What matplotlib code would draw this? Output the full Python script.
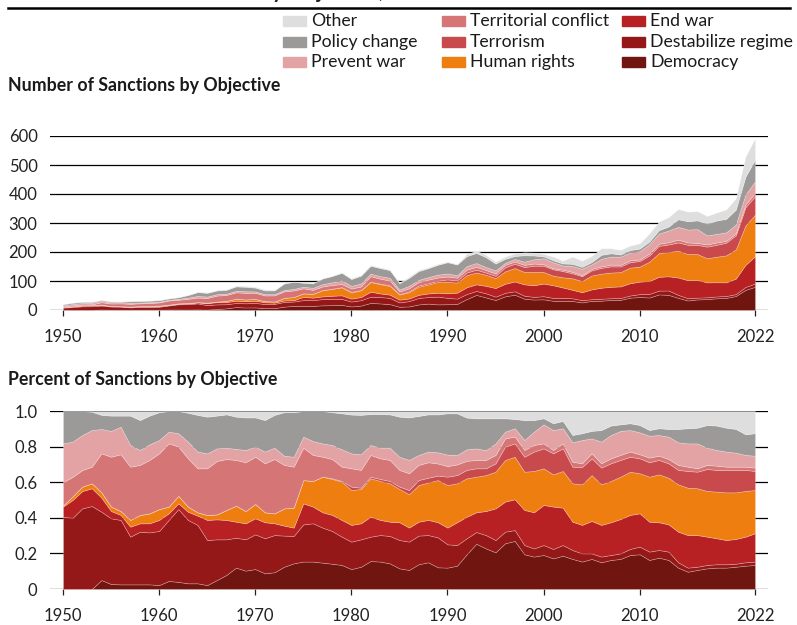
import numpy as np
import matplotlib
matplotlib.use('Agg')
import matplotlib.pyplot as plt
from matplotlib.patches import Rectangle
from matplotlib.lines import Line2D

plt.rcParams['font.family'] = ['Lato', 'DejaVu Sans']

years = list(range(1950, 2023))

# total number of sanctions in place per year (upper panel)
total = [20, 25, 28, 28, 35, 30, 30, 31, 33, 33,
         34, 40, 44, 52, 63, 61, 69, 71, 84, 83,
         80, 71, 69, 92, 98, 94, 92, 109, 118, 130,
         109, 121, 155, 147, 140, 95, 115, 138, 147, 159,
         167, 159, 193, 205, 190, 167, 184, 195, 199, 198,
         193, 184, 170, 184, 170, 186, 213, 213, 207, 222,
         230, 264, 305, 320, 348, 339, 341, 324, 336, 347,
         385, 529, 592]

# share of sanctions by objective, % (lower panel)
democracy = [0, 0, 0, 0, 5.0, 2.8, 2.6, 2.6, 2.6, 2.6,
             2.2, 4.5, 4.0, 3.2, 3.2, 2.2, 5.0, 7.9, 12.0, 10.3,
             11.2, 8.8, 9.4, 12.5, 14.4, 15.4, 15.4, 14.8, 14.2, 13.5,
             11.2, 12.5, 15.7, 15.4, 14.4, 11.6, 10.7, 13.9, 15.0, 12.2,
             12.0, 13.1, 19.5, 25.4, 22.8, 20.6, 25.7, 27.0, 19.5, 18.2,
             19.1, 17.2, 18.7, 16.9, 15.4, 16.9, 15.0, 16.3, 16.9, 19.1,
             19.5, 16.3, 17.6, 16.3, 12.0, 9.7, 10.7, 11.6, 12.0, 12.0,
             12.5, 13.1, 13.5]
destabilize = [40.6, 40.0, 45.3, 46.6, 38.4, 36.9, 36.2, 26.8, 29.6, 29.2,
               30.4, 34.3, 40.9, 35.6, 32.8, 25.3, 22.9, 20.0, 16.8, 17.6,
               19.5, 19.7, 20.9, 17.5, 15.4, 20.9, 21.5, 19.7, 18.4, 15.9,
               15.4, 15.4, 13.7, 14.9, 15.4, 15.9, 15.9, 16.1, 15.3, 16.8,
               13.1, 11.6, 9.0, 6.6, 7.5, 6.9, 6.5, 6.1, 5.2, 4.6,
               5.6, 5.3, 6.0, 5.0, 4.6, 3.1, 3.2, 2.8, 3.1, 3.4,
               4.3, 4.7, 4.3, 4.7, 3.0, 2.3, 1.8, 1.9, 1.9, 1.9,
               1.7, 1.9, 1.9]
end_war = [5.7, 10.0, 9.7, 10.0, 7.9, 4.1, 2.8, 5.6, 4.7, 5.1,
           6.2, 3.7, 3.2, 4.6, 5.2, 11.3, 11.2, 10.9, 9.0, 9.0,
           9.0, 9.0, 6.6, 5.6, 4.7, 11.8, 9.4, 8.6, 9.0, 9.4,
           9.4, 9.0, 11.2, 8.5, 8.0, 10.0, 7.9, 7.8, 8.5, 8.5,
           9.4, 12.8, 12.1, 11.1, 13.5, 17.8, 16.9, 17.3, 19.7, 20.3,
           22.5, 23.8, 21.0, 15.9, 16.0, 18.2, 17.8, 18.4, 19.3, 19.1,
           18.7, 16.8, 15.6, 15.3, 17.2, 18.3, 17.8, 15.9, 14.6, 13.6,
           13.9, 14.4, 15.9]
human_rights = [0.7, 2.0, 2.5, 2.8, 3.0, 2.5, 2.2, 3.8, 4.7, 5.6,
                6.1, 3.8, 4.3, 2.9, 1.9, 2.8, 2.8, 5.6, 9.0, 6.9,
                8.1, 5.6, 5.6, 9.7, 11.2, 13.1, 14.4, 20.0, 20.2, 21.5,
                19.6, 19.3, 21.6, 21.9, 21.6, 18.7, 18.7, 20.6, 21.1, 23.7,
                23.9, 21.9, 21.6, 20.0, 20.2, 20.6, 23.4, 23.9, 21.5, 23.2,
                20.6, 18.1, 20.6, 21.6, 22.8, 25.8, 22.8, 23.2, 23.8, 24.3,
                22.5, 25.3, 26.9, 26.2, 26.6, 26.6, 26.3, 25.7, 26.2, 26.8,
                26.2, 25.7, 24.3]
terrorism = [0, 0, 0, 0, 0, 0, 0, 0, 0, 0,
             0, 0, 0, 0, 0, 0, 0, 0, 0, 0,
             0, 0, 0, 0, 0, 0, 0, 0, 0.4, 0.4,
             1.9, 0.7, 0.9, 1.1, 1.3, 1.3, 2.4, 2.8, 2.6, 2.5,
             4.7, 4.6, 4.7, 4.7, 3.8, 4.7, 7.5, 7.5, 8.4, 10.9,
             11.2, 11.8, 12.7, 9.3, 9.7, 9.4, 9.4, 9.9, 9.4, 8.4,
             8.4, 8.1, 8.1, 8.1, 8.1, 9.4, 9.3, 12.3, 12.2, 12.6,
             12.6, 11.8, 10.7]
territorial = [13.0, 11.0, 9.3, 9.3, 21.9, 28.0, 31.9, 29.9, 28.1, 30.0,
               31.3, 35.5, 27.6, 27.1, 24.7, 26.2, 30.0, 28.6, 25.7, 27.4,
               26.5, 27.5, 30.5, 24.4, 23.0, 18.2, 14.6, 11.2, 10.8, 8.0,
               10.3, 10.0, 12.2, 11.6, 11.8, 9.4, 9.4, 8.5, 8.7, 6.8,
               5.9, 6.0, 5.1, 4.7, 4.7, 4.7, 4.6, 3.8, 3.8, 3.7,
               2.8, 1.9, 2.8, 2.8, 2.1, 2.8, 2.4, 2.8, 2.8, 2.9,
               2.3, 2.6, 2.4, 2.4, 2.8, 2.4, 1.9, 2.3, 2.4, 1.8,
               1.8, 1.8, 1.9]
prevent_war = [21.8, 19.8, 19.7, 20.6, 13.7, 14.5, 15.5, 12.2, 8.4, 8.8,
               7.5, 6.6, 7.5, 9.4, 9.4, 8.4, 7.1, 6.4, 6.2, 6.9,
               5.7, 6.6, 6.4, 5.2, 5.6, 6.2, 7.8, 7.5, 7.9, 9.8,
               8.4, 8.8, 5.6, 6.0, 6.9, 7.4, 7.5, 5.6, 6.0, 6.3,
               6.5, 5.3, 6.5, 6.5, 5.5, 6.5, 3.8, 4.7, 5.6, 7.5,
               10.7, 11.2, 8.5, 10.9, 13.1, 8.4, 12.2, 13.1, 13.5, 12.1,
               12.3, 12.3, 11.6, 12.6, 12.7, 13.1, 14.0, 9.7, 8.8, 8.5,
               7.9, 6.6, 6.7]
policy_change = [18.2, 17.2, 13.5, 10.3, 7.9, 8.6, 6.2, 16.5, 16.8, 16.1,
                 15.6, 11.6, 12.5, 16.2, 20.6, 20.6, 18.4, 18.7, 18.1, 18.3,
                 16.4, 17.7, 18.4, 24.4, 25.0, 14.4, 16.9, 18.2, 18.4, 20.2,
                 21.8, 22.1, 17.4, 18.9, 18.7, 22.5, 23.9, 21.9, 20.9, 21.3,
                 23.2, 23.4, 17.8, 16.9, 17.9, 14.1, 7.5, 5.2, 11.2, 6.5,
                 3.4, 3.8, 4.1, 4.1, 3.8, 4.2, 6.5, 5.3, 3.7, 3.8,
                 4.1, 3.2, 3.8, 4.3, 7.5, 8.5, 8.8, 12.7, 13.7, 13.4,
                 13.3, 11.6, 12.6]
other = [0, 0, 0, 0.4, 2.2, 2.6, 2.6, 2.6, 5.1, 2.6,
         0.7, 0, 0, 1.0, 2.2, 3.2, 2.6, 1.9, 3.2, 3.6,
         3.6, 5.1, 2.2, 0.7, 0.7, 0, 0, 0, 0.7, 1.3,
         2.0, 2.2, 1.7, 1.7, 1.9, 3.2, 3.6, 2.8, 1.9, 1.9,
         1.3, 1.3, 3.7, 4.1, 4.1, 4.1, 4.1, 4.5, 5.1, 5.1,
         4.1, 6.9, 5.6, 13.5, 12.5, 11.2, 10.7, 8.2, 7.5, 6.9,
         7.9, 10.7, 9.7, 10.1, 10.1, 9.7, 9.4, 7.9, 8.2, 9.4,
         10.1, 13.1, 12.5]

labels = ['Democracy', 'Destabilize regime', 'End war', 'Human rights', 'Terrorism',
          'Territorial conflict', 'Prevent war', 'Policy change', 'Other']
colors = ['#701510', '#941818', '#b72124', '#ef7e10', '#c94a4c',
          '#d67576', '#e3a3a4', '#9b9a98', '#dedede']

shares = np.array([democracy, destabilize, end_war, human_rights, terrorism,
                   territorial, prevent_war, policy_change, other], dtype=float)
shares = shares / shares.sum(axis=0)
counts = shares * np.array(total)

W, H = 797, 625
fig = plt.figure(figsize=(W / 100, H / 100), dpi=100)

ax1 = fig.add_axes([50 / W, 1 - 310 / H, 718 / W, 174 / H])
ax2 = fig.add_axes([50 / W, 1 - 589 / H, 718 / W, 178 / H])

edge = (1, 1, 1, 0.3)
ax1.stackplot(years, counts, colors=colors, edgecolor=edge, linewidth=0.5)
ax2.stackplot(years, shares, colors=colors, edgecolor=edge, linewidth=0.5)

xticks = [1950, 1960, 1970, 1980, 1990, 2000, 2010, 2022]
for ax in (ax1, ax2):
    ax.set_xlim(1948.65, 2023.35)
    for s in ax.spines.values():
        s.set_visible(False)
    ax.set_axisbelow(True)
    ax.yaxis.grid(True, color='black', linewidth=0.9)
    ax.set_xticks(xticks)
    ax.set_xticklabels([str(x) for x in xticks])
    ax.tick_params(axis='x', length=4, width=0.9, color='#222222', pad=10,
                   labelsize=12, labelcolor='#222222')
    ax.tick_params(axis='y', length=0, pad=9, labelsize=12, labelcolor='#222222')

ax1.set_ylim(0, 600)
ax1.set_yticks(range(0, 700, 100))
ax2.set_ylim(0, 1)
ax2.set_yticks([0, 0.2, 0.4, 0.6, 0.8, 1.0])
ax2.set_yticklabels(['0', '0.2', '0.4', '0.6', '0.8', '1.0'])

fig.text(8 / W, 1 - 86 / H, 'Number of Sanctions by Objective', fontsize=12.8,
         fontweight='bold', va='center', color='#1a1a1a')
fig.text(8 / W, 1 - 379 / H, 'Percent of Sanctions by Objective', fontsize=12.8,
         fontweight='bold', va='center', color='#1a1a1a')

# headline sits above the canvas in the source, only its descenders show
fig.text(100 / W, 1 + 1.5 / H, 'Global Sanctions by Objective, 1950\u20132022', fontsize=15,
         fontweight='bold', va='baseline', color='#1a1a1a')
fig.add_artist(Line2D([8 / W, 790 / W], [1 - 8 / H, 1 - 8 / H], color='black', linewidth=1.8))

# legend, filled column by column
legend_order = ['Other', 'Policy change', 'Prevent war',
                'Territorial conflict', 'Terrorism', 'Human rights',
                'End war', 'Destabilize regime', 'Democracy']
col_x = [283, 442, 622]
row_y = [21, 42, 62]
for i, name in enumerate(legend_order):
    cx = col_x[i // 3]
    ry = row_y[i % 3]
    c = colors[labels.index(name)]
    fig.add_artist(Rectangle((cx / W, 1 - (ry + 5) / H), 23 / W, 10 / H,
                             transform=fig.transFigure, color=c))
    fig.text((cx + 28) / W, 1 - ry / H, name, fontsize=12.7, va='center', color='#1a1a1a')

fig.savefig('out.png', dpi=100)
